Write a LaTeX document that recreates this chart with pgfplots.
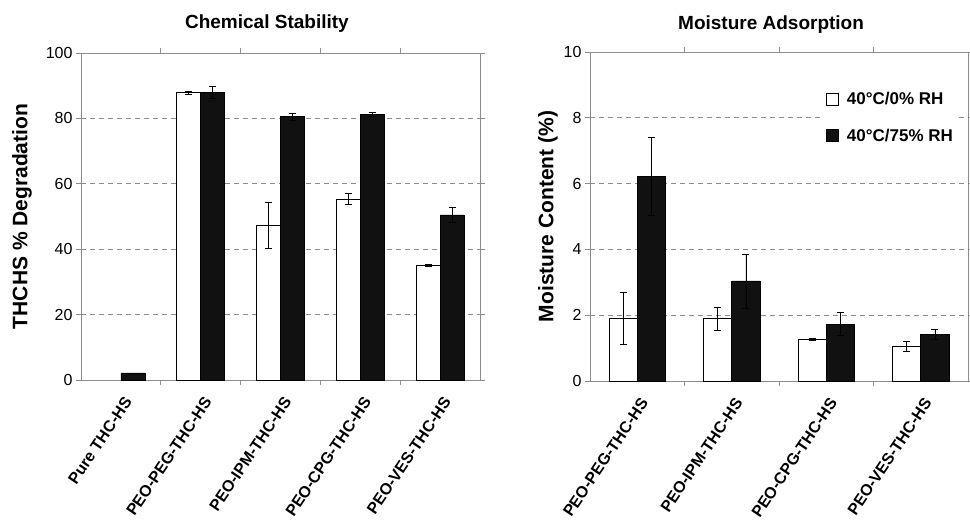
\documentclass[border=0pt]{standalone}
\usepackage{fontspec}
\setmainfont{Liberation Sans}
\usepackage{pgfplots}
\pgfplotsset{compat=1.18}
\definecolor{frame}{HTML}{8C8C8C}
\definecolor{barblk}{HTML}{111111}
\pgfplotsset{
  common/.style={
    scale only axis, ybar=0pt, bar width=0.3,
    axis line style={frame, line width=0.8pt},
    tick style={frame, line width=0.8pt},
    tick align=outside, major tick length=5pt, minor tick length=5pt,
    every major x tick/.append style={draw=none},
    ymin=0,
    ymajorgrids,
    grid style={frame, line width=0.7pt, dash pattern=on 5pt off 4pt},
    /pgf/number format/assume math mode=true,
    yticklabel style={font=\fontsize{16}{19}\selectfont},
    xticklabel style={font=\fontsize{16}{19}\selectfont\bfseries, xshift=9pt, yshift=-11pt, rotate=56, anchor=east},
    ylabel style={font=\fontsize{21}{24}\selectfont\bfseries, anchor=center},
    title style={font=\fontsize{19}{22}\selectfont\bfseries, anchor=center},
    error bars/error bar style={black, line width=0.6pt},
    error bars/error mark options={black, rotate=90, line width=0.6pt, mark size=3.5pt},
  },
  wbar/.style={draw=black, fill=white, line width=0.6pt,
    error bars/y dir=both, error bars/y explicit},
  kbar/.style={draw=black, fill=barblk, line width=0.6pt,
    error bars/y dir=both, error bars/y explicit},
}
\newcommand{\legfont}{\fontsize{17}{20}\selectfont\bfseries}
\begin{document}
\begin{tikzpicture}
\useasboundingbox (0pt,0pt) rectangle (970pt,-527pt);
% Left: Chemical Stability
\begin{axis}[common,
  at={(81pt,-380pt)}, anchor=south west,
  width=399pt, height=327pt,
  xmin=-0.5, xmax=4.5, ymax=100,
  ytick={0,20,...,100},
  xtick={0,1,2,3,4},
  minor xtick={0.5,1.5,2.5,3.5},
  xticklabels={Pure THC-HS,PEO-PEG-THC-HS,PEO-IPM-THC-HS,PEO-CPG-THC-HS,PEO-VES-THC-HS},
  ylabel={THCHS \% Degradation},
  ylabel style={at={(axis description cs:-0.148,0.5)}},
  title={Chemical Stability},
  title style={at={(axis description cs:0.466,1.073)}},
]
\addplot[wbar, bar shift=-0.15] coordinates {
  (1,87.9) +- (0,0.5)
  (2,47.4) +- (0,7.0)
  (3,55.4) +- (0,1.7)
  (4,35.0) +- (0,0.3)
};
\addplot[kbar, bar shift=0.15] coordinates {
  (0,2.2) +- (0,0)
  (1,88.0) +- (0,1.8)
  (2,80.5) +- (0,1.0)
  (3,81.2) +- (0,0.7)
  (4,50.5) +- (0,2.3)
};
\end{axis}
% Right: Moisture Adsorption
\begin{axis}[common,
  at={(590pt,-381pt)}, anchor=south west,
  width=378pt, height=329pt,
  xmin=-0.5, xmax=3.5, ymax=10,
  ytick={0,2,...,10},
  xtick={0,1,2,3},
  minor xtick={0.5,1.5,2.5},
  xticklabels={PEO-PEG-THC-HS,PEO-IPM-THC-HS,PEO-CPG-THC-HS,PEO-VES-THC-HS},
  ylabel={Moisture Content (\%)},
  ylabel style={at={(axis description cs:-0.111,0.5)}},
  title={Moisture Adsorption},
  title style={at={(axis description cs:0.479,1.064)}},
  legend style={at={(0.614,0.891)}, anchor=north west, draw=none, fill=white,
    font=\legfont, row sep=19pt, column sep=6pt, inner xsep=4pt},
  legend cell align=left,
  legend image code/.code={\draw[#1, line width=0.6pt] (0pt,-6pt) rectangle (12pt,6pt);},
]
\addplot[wbar, bar shift=-0.15] coordinates {
  (0,1.91) +- (0,0.8)
  (1,1.90) +- (0,0.35)
  (2,1.27) +- (0,0.03)
  (3,1.06) +- (0,0.15)
};
\addlegendentry{\legfont 40°C/0\% RH}
\addplot[kbar, bar shift=0.15] coordinates {
  (0,6.22) +- (0,1.18)
  (1,3.04) +- (0,0.82)
  (2,1.73) +- (0,0.35)
  (3,1.42) +- (0,0.14)
};
\addlegendentry{\legfont 40°C/75\% RH}
\end{axis}
\end{tikzpicture}
\end{document}
